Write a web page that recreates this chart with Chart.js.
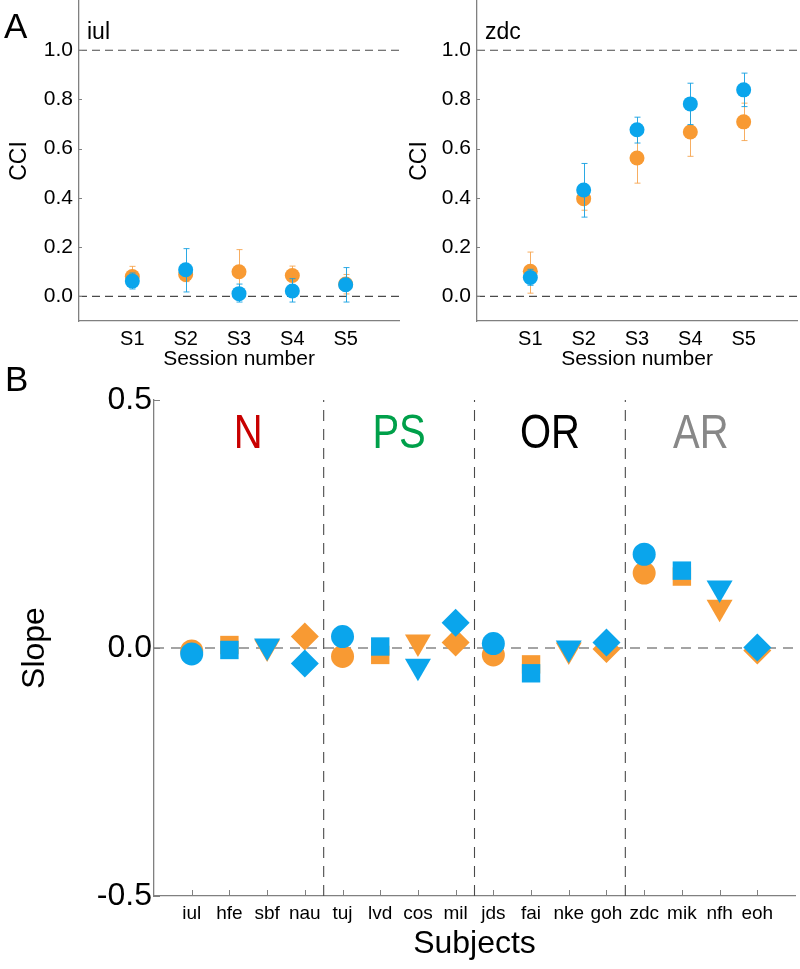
<!DOCTYPE html>
<html><head><meta charset="utf-8">
<script src="https://cdn.jsdelivr.net/npm/chart.js@4/dist/chart.umd.min.js"></script>
<style>
html,body{margin:0;padding:0;background:#fff;}
#wrap{position:relative;width:800px;height:969px;overflow:hidden;font-family:"Liberation Sans",Arial,Helvetica,sans-serif;}
canvas{position:absolute;}
.panel{position:absolute;font-size:35px;color:#000;line-height:1;}
</style></head><body>
<div id="wrap">
<canvas id="cB" width="800" height="609" style="left:0;top:360px"></canvas>
<canvas id="cA1" width="400" height="370" style="left:0;top:0"></canvas>
<canvas id="cA2" width="400" height="370" style="left:400px;top:0"></canvas>
<div class="panel" style="left:4px;top:8px">A</div>
<div class="panel" style="left:5px;top:361px">B</div>
</div>
<script>
// ---------- data ----------
const sessions = ['S1', 'S2', 'S3', 'S4', 'S5'];
const cciTicks = [0, 0.2, 0.4, 0.6, 0.8, 1.0];
const cciRefLines = [0, 1];

const iulOrange   = [0.081, 0.089, 0.100, 0.085, 0.050];
const iulOrangeLo = [0.045, 0.060, 0.010, 0.047, 0.010];
const iulOrangeHi = [0.122, 0.120, 0.190, 0.123, 0.089];
const iulBlue     = [0.062, 0.108, 0.011, 0.022, 0.047];
const iulBlueLo   = [0.030, 0.018, -0.023, -0.023, -0.023];
const iulBlueHi   = [0.095, 0.194, 0.050, 0.072, 0.117];

const zdcOrange   = [0.102, 0.397, 0.562, 0.668, 0.709];
const zdcOrangeLo = [0.013, 0.350, 0.460, 0.569, 0.633];
const zdcOrangeHi = [0.180, 0.440, 0.660, 0.770, 0.785];
const zdcBlue     = [0.077, 0.432, 0.677, 0.782, 0.839];
const zdcBlueLo   = [0.045, 0.322, 0.623, 0.698, 0.771];
const zdcBlueHi   = [0.110, 0.540, 0.728, 0.866, 0.907];

const subjects = ['iul','hfe','sbf','nau','tuj','lvd','cos','mil','jds','fai','nke','goh','zdc','mik','nfh','eoh'];
const slopeOrange = [-0.006, 0.006, 0.002, 0.023, -0.017, -0.014, 0.012, 0.011, -0.014, -0.033, -0.004, -0.002, 0.151, 0.144, 0.082, -0.005];
const slopeBlue   = [-0.012, -0.004, 0.004, -0.031, 0.023, 0.003, -0.037, 0.051, 0.009, -0.051, 0.000, 0.011, 0.189, 0.156, 0.121, 0.001];
const slopeTicks = [-0.5, 0, 0.5];
const groupNames = ['N', 'PS', 'OR', 'AR'];

// ---------- styles ----------
const FONT = '"Liberation Sans", Arial, Helvetica, sans-serif';
const ORANGE = '#F89A33', BLUE = '#0AA5EC';
const ORANGE_ERR = 'rgba(246,160,70,0.85)', BLUE_ERR = 'rgba(20,160,225,0.9)';
const AXIS = '#808080', DASH = '#4a4a4a';
const groupColors = ['#C80000', '#00A04A', '#000000', '#888888'];
const shapeStyles = ['circle', 'rect', 'triangle', 'rectRot'];
const shapeRot = [0, 0, 180, 0];
const shapeRadius = [11.5, 13, 15, 14];

Chart.defaults.font.family = FONT;
Chart.defaults.color = '#000';

function fixBox(w, h) {
  return s => {
    if (w !== undefined) s.width = w;
    if (h !== undefined) s.height = h;
    s.paddingTop = 0; s.paddingBottom = 0; s.paddingLeft = 0; s.paddingRight = 0;
  };
}

const errorBars = {
  id: 'errorBars',
  beforeDatasetDraw(chart, args) {
    const ds = chart.data.datasets[args.index];
    if (!ds.errLo) return;
    const {ctx, scales: {x, y}} = chart;
    ctx.save();
    ctx.strokeStyle = ds.errColor;
    ctx.lineWidth = 1;
    ds.data.forEach((p, i) => {
      const px = Math.round(x.getPixelForValue(p.x)) + 0.5;
      const y1 = y.getPixelForValue(ds.errLo[i]);
      const y2 = y.getPixelForValue(ds.errHi[i]);
      ctx.beginPath();
      ctx.moveTo(px, y1); ctx.lineTo(px, y2);
      ctx.moveTo(px - 3, y1); ctx.lineTo(px + 3, y1);
      ctx.moveTo(px - 3, y2); ctx.lineTo(px + 3, y2);
      ctx.stroke();
    });
    ctx.restore();
  }
};

const innerTicks = {
  id: 'innerTicks',
  afterDraw(chart, args, opts) {
    const {ctx, chartArea} = chart;
    ctx.save();
    ctx.strokeStyle = opts.color || AXIS;
    ctx.lineWidth = 1;
    (opts.y || []).forEach(v => {
      const py = Math.round(chart.scales.y.getPixelForValue(v)) + 0.5;
      ctx.beginPath(); ctx.moveTo(chartArea.left, py); ctx.lineTo(chartArea.left + opts.len, py); ctx.stroke();
    });
    (opts.x || []).forEach(v => {
      const px = Math.round(chart.scales.x.getPixelForValue(v)) + 0.5;
      ctx.beginPath(); ctx.moveTo(px, chartArea.bottom); ctx.lineTo(px, chartArea.bottom - opts.len); ctx.stroke();
    });
    ctx.restore();
  }
};

const textLabels = {
  id: 'textLabels',
  afterDraw(chart, args, opts) {
    const {ctx, chartArea} = chart;
    (opts.items || []).forEach(it => {
      ctx.save();
      ctx.font = it.font;
      ctx.fillStyle = it.color || '#000';
      ctx.textAlign = it.align || 'center';
      ctx.textBaseline = 'middle';
      const px = it.px !== undefined ? chartArea.left + it.px : chart.scales.x.getPixelForValue(it.x);
      const py = it.py !== undefined ? it.py : chart.scales.y.getPixelForValue(it.y);
      const sy = it.sy || 1;
      ctx.translate(px, py);
      ctx.scale(1, sy);
      ctx.fillText(it.text, 0, 0);
      ctx.restore();
    });
  }
};

function refLineH(v, x0, x1, dash) {
  return {type: 'line', data: [{x: x0, y: v}, {x: x1, y: v}], borderColor: DASH, borderWidth: 1.1,
          borderDash: dash, pointRadius: 0, showLine: true, order: 5, clip: false};
}
function refLineV(v, y0, y1, dash) {
  return {type: 'line', data: [{x: v, y: y0}, {x: v, y: y1}], borderColor: DASH, borderWidth: 1.1,
          borderDash: dash, pointRadius: 0, showLine: true, order: 5, clip: false};
}

function makeA(id, title, oV, oLo, oHi, bV, bLo, bHi, yWidth, padRight) {
  const toPts = arr => arr.map((v, i) => ({x: i + 1, y: v}));
  new Chart(document.getElementById(id), {
    type: 'scatter',
    data: {
      datasets: [
        {data: toPts(bV), errLo: bLo, errHi: bHi, errColor: BLUE_ERR, backgroundColor: BLUE,
         pointRadius: 7.5, borderWidth: 0, order: 0, clip: false},
        {data: toPts(oV), errLo: oLo, errHi: oHi, errColor: ORANGE_ERR, backgroundColor: ORANGE,
         pointRadius: 7.5, borderWidth: 0, order: 1, clip: false},
        ...cciRefLines.map(v => refLineH(v, 0, 6, [8, 5]))
      ]
    },
    options: {
      responsive: false, animation: false, devicePixelRatio: 1,
      layout: {autoPadding: false, padding: {top: 1, right: padRight, left: 0, bottom: 0}},
      plugins: {
        legend: {display: false}, tooltip: {enabled: false},
        innerTicks: {y: cciTicks, len: 3, color: AXIS},
        textLabels: {items: [{text: title, px: 8, py: 33, font: '23px ' + FONT, align: 'left'}]}
      },
      scales: {
        x: {
          type: 'linear', min: 0, max: 6,
          afterBuildTicks: ax => { ax.ticks = sessions.map((s, i) => ({value: i + 1})); },
          ticks: {callback: v => sessions[v - 1], font: {size: 20}, color: '#000', padding: 6, maxRotation: 0, autoSkip: false},
          grid: {display: false, drawTicks: false},
          border: {display: true, color: AXIS, width: 1.3},
          title: {display: true, text: 'Session number', font: {size: 21}, color: '#000', padding: {top: 0, bottom: -2}},
          afterFit: fixBox(undefined, 49)
        },
        y: {
          type: 'linear', min: -0.1, max: 1.2,
          afterBuildTicks: ax => { ax.ticks = cciTicks.map(v => ({value: v})); },
          ticks: {callback: v => v.toFixed(1), font: {size: 21}, color: '#000', padding: 6, autoSkip: false},
          grid: {display: false, drawTicks: false},
          border: {display: true, color: AXIS, width: 1.3},
          title: {display: true, text: 'CCI', font: {size: 23}, color: '#000', padding: {top: 6, bottom: 0}},
          afterFit: fixBox(yWidth, undefined)
        }
      }
    },
    plugins: [errorBars, innerTicks, textLabels]
  });
}

makeA('cA1', 'iul', iulOrange, iulOrangeLo, iulOrangeHi, iulBlue, iulBlueLo, iulBlueHi, 79, 1);
makeA('cA2', 'zdc', zdcOrange, zdcOrangeLo, zdcOrangeHi, zdcBlue, zdcBlueLo, zdcBlueHi, 77, 3);

// ---------- panel B ----------
const nSub = subjects.length;
const separators = [];
for (let g = 1; g < groupNames.length; g++) separators.push(g * 4 + 0.5);
const ptStyle = subjects.map((s, i) => shapeStyles[i % 4]);
const ptRot = subjects.map((s, i) => shapeRot[i % 4]);
const ptRad = subjects.map((s, i) => shapeRadius[i % 4]);

new Chart(document.getElementById('cB'), {
  type: 'scatter',
  data: {
    datasets: [
      {data: slopeBlue.map((v, i) => ({x: i + 1, y: v})), backgroundColor: BLUE, borderWidth: 0,
       pointStyle: ptStyle, pointRotation: ptRot, pointRadius: ptRad, order: 0, clip: false},
      {data: slopeOrange.map((v, i) => ({x: i + 1, y: v})), backgroundColor: ORANGE, borderWidth: 0,
       pointStyle: ptStyle, pointRotation: ptRot, pointRadius: ptRad, order: 1, clip: false},
      refLineH(0, 0, nSub + 1, [10, 7]),
      ...separators.map(v => refLineV(v, -0.5, 0.5, [11, 8]))
    ]
  },
  options: {
    responsive: false, animation: false, devicePixelRatio: 1,
    layout: {autoPadding: false, padding: {top: 40, right: 5, left: 0, bottom: 0}},
    plugins: {
      legend: {display: false}, tooltip: {enabled: false},
      innerTicks: {y: slopeTicks, x: subjects.map((s, i) => i + 1), len: 6, color: AXIS},
      textLabels: {items: groupNames.map((g, k) => ({text: g, x: k * 4 + 2.5, y: 0.43, font: '40px ' + FONT, sy: 1.2, color: groupColors[k]}))}
    },
    scales: {
      x: {
        type: 'linear', min: 0, max: nSub + 1,
        afterBuildTicks: ax => { ax.ticks = subjects.map((s, i) => ({value: i + 1})); },
        ticks: {callback: v => subjects[v - 1], font: {size: 19}, color: '#000', padding: 6, maxRotation: 0, autoSkip: false},
        grid: {display: false, drawTicks: false},
        border: {display: true, color: AXIS, width: 1.3},
        title: {display: true, text: 'Subjects', font: {size: 32}, color: '#000', padding: {top: 0, bottom: 6}},
        afterFit: fixBox(undefined, 73)
      },
      y: {
        type: 'linear', min: -0.5, max: 0.5,
        afterBuildTicks: ax => { ax.ticks = slopeTicks.map(v => ({value: v})); },
        ticks: {callback: v => v.toFixed(1), font: {size: 32}, color: '#000', padding: 2, autoSkip: false},
        grid: {display: false, drawTicks: false},
        border: {display: true, color: AXIS, width: 1.3},
        title: {display: true, text: 'Slope', font: {size: 32}, color: '#000', padding: {top: 16, bottom: 0}},
        afterFit: fixBox(154, undefined)
      }
    }
  },
  plugins: [innerTicks, textLabels]
});
</script>
</body></html>
